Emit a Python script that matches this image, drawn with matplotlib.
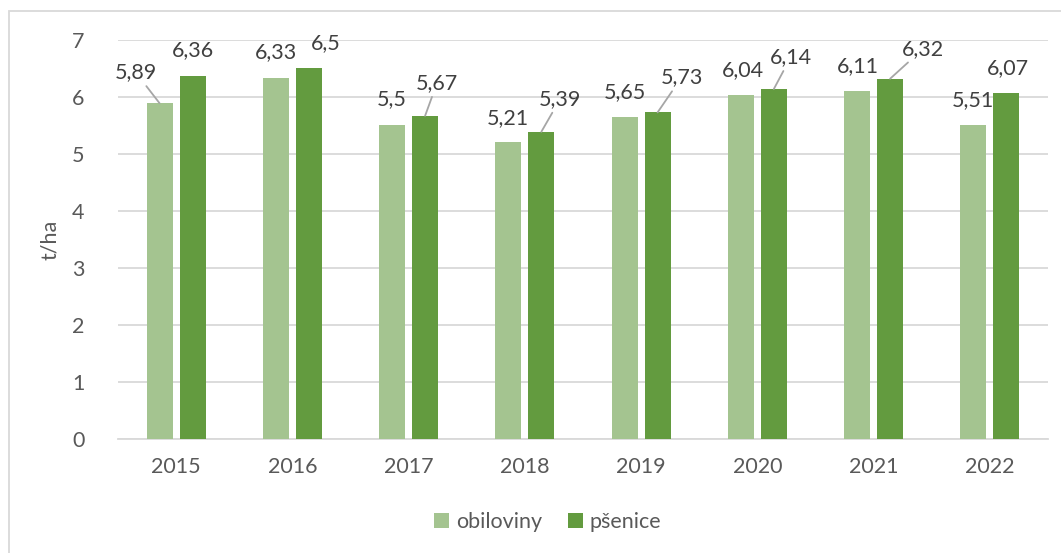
import numpy as np
import matplotlib.pyplot as plt
from matplotlib.patches import Rectangle

plt.rcParams['font.family'] = ['Lato', 'DejaVu Sans']

roky = ['2015', '2016', '2017', '2018', '2019', '2020', '2021', '2022']
obiloviny = [5.89, 6.33, 5.5, 5.21, 5.65, 6.04, 6.11, 5.51]
psenice = [6.36, 6.5, 5.67, 5.39, 5.73, 6.14, 6.32, 6.07]

# posun popisků (v pixelech) a zda mají vodicí čáru
off_obi = [(-24, 31), (0, 26), (0, 26), (0, 24), (0, 25), (2, 25), (1, 25), (0, 25)]
lead_obi = [True, False, False, False, False, False, False, False]
off_pse = [(0, 26), (17, 25), (12, 33), (19, 33), (24, 35), (17, 32), (33, 30), (2, 25)]
lead_pse = [False, False, True, True, True, True, True, False]

c_light = '#A4C490'
c_dark = '#639B3F'
txt = '#404040'
fs = 15.5

fig = plt.figure(figsize=(10.61, 5.53), dpi=100)
ax = fig.add_axes([0.1112, 0.2061, 0.8765, 0.7216])

x = np.arange(len(roky))
w = 0.225
d = 0.142
ax.bar(x - d, obiloviny, w, color=c_light, label='obiloviny', zorder=3)
ax.bar(x + d, psenice, w, color=c_dark, label='pšenice', zorder=3)

def popisky(xs, vals, offs, leads):
    for xi, v, o, l in zip(xs, vals, offs, leads):
        s = ('%g' % v).replace('.', ',')
        ap = dict(arrowstyle='-', color='#A6A6A6', lw=1.3, shrinkA=1, shrinkB=0) if l else None
        ax.annotate(s, xy=(xi, v), xytext=o, textcoords='offset pixels',
                    ha='center', va='center', fontsize=fs, color=txt,
                    arrowprops=ap, zorder=4)

popisky(x - d, obiloviny, off_obi, lead_obi)
popisky(x + d, psenice, off_pse, lead_pse)

ax.set_xlim(-0.5, len(roky) - 0.5)
ax.set_ylim(0, 7)
ax.set_yticks(range(0, 8))
ax.set_xticks(x)
ax.set_xticklabels(roky)
ax.grid(axis='y', color='#D9D9D9', lw=1.3, zorder=0)
for s in ['top', 'right', 'left']:
    ax.spines[s].set_visible(False)
ax.spines['bottom'].set_color('#D9D9D9')
ax.spines['bottom'].set_linewidth(1.3)
ax.tick_params(axis='both', length=0, labelsize=fs, labelcolor='#595959')
ax.tick_params(axis='x', pad=13)
ax.tick_params(axis='y', pad=24)
ax.set_ylabel('t/ha', fontsize=fs, color='#595959')
ax.yaxis.set_label_coords(-0.062, 0.5)

fig.legend(loc='center', bbox_to_anchor=(0.516, 0.056), ncol=2, frameon=False,
           fontsize=fs, labelcolor='#595959', handlelength=0.7, handleheight=0.7,
           handletextpad=0.3, columnspacing=1.2)

fig.patches.append(Rectangle((9 / 1061, -0.1), 1.1, 1 - 11 / 553 + 0.1,
                             transform=fig.transFigure, fill=False,
                             edgecolor='#D9D9D9', lw=1.3))

fig.savefig('out.png', dpi=100)
